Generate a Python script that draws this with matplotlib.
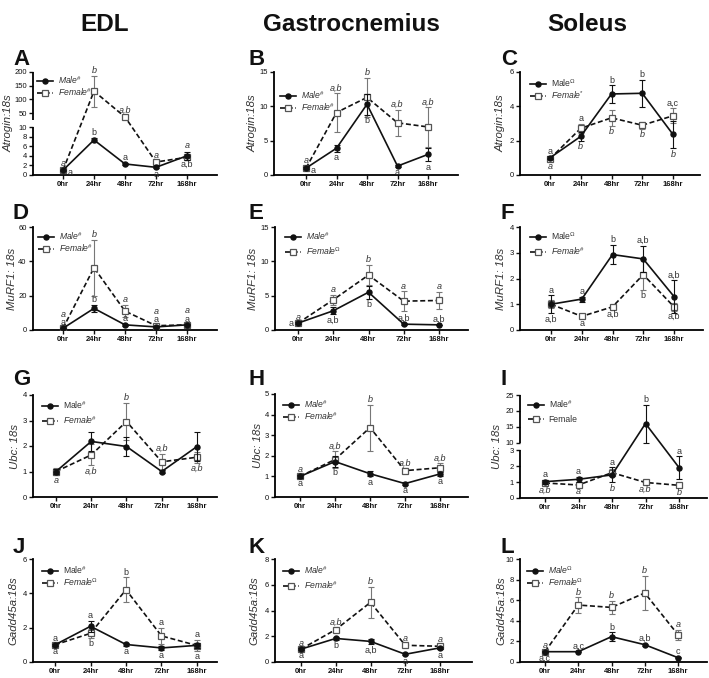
import numpy as np
import matplotlib
matplotlib.use("Agg")
import matplotlib.pyplot as plt
from matplotlib.lines import Line2D

plt.rcParams['font.family'] = ['Liberation Sans', 'DejaVu Sans']
plt.rcParams['mathtext.fontset'] = 'custom'
plt.rcParams['mathtext.rm'] = 'Liberation Sans'
plt.rcParams['mathtext.it'] = 'Liberation Sans:italic'
plt.rcParams['mathtext.bf'] = 'Liberation Sans:bold'

# ---------------- data ----------------
timepoints = ['0hr', '24hr', '48hr', '72hr', '168hr']
muscles = ['EDL', 'Gastrocnemius', 'Soleus']
genes = ['Atrogin:18s', 'MuRF1: 18s', 'Ubc: 18s', 'Gadd45a:18s']

atrogin_edl_m = [1.0, 7.3, 2.3, 1.6, 4.0]
atrogin_edl_m_sem = [0.1, 0.5, 0.3, 0.2, 0.8]
atrogin_edl_f = [1.0, 130, 36, 2.7, 3.7]
atrogin_edl_f_sem = [0.1, 57, 5, 0.3, 0.5]
atrogin_gas_m = [1.0, 3.9, 10.3, 1.3, 3.0]
atrogin_gas_m_sem = [0.1, 0.5, 1.5, 0.1, 1.0]
atrogin_gas_f = [1.0, 9.1, 11.3, 7.6, 7.0]
atrogin_gas_f_sem = [0.1, 2.8, 2.8, 1.9, 2.9]
atrogin_sol_m = [1.0, 2.25, 4.72, 4.76, 2.36]
atrogin_sol_m_sem = [0.08, 0.25, 0.5, 0.78, 0.8]
atrogin_sol_f = [0.95, 2.72, 3.33, 2.9, 3.45]
atrogin_sol_f_sem = [0.12, 0.25, 0.45, 0.2, 0.45]

murf_edl_m = [1.0, 12.6, 3.0, 1.8, 3.0]
murf_edl_m_sem = [0.2, 2.0, 0.5, 0.3, 0.3]
murf_edl_f = [1.0, 36.3, 11.0, 2.5, 3.0]
murf_edl_f_sem = [0.2, 16.3, 3.5, 0.5, 0.3]
murf_gas_m = [1.0, 2.8, 5.5, 0.85, 0.75]
murf_gas_m_sem = [0.1, 0.5, 0.95, 0.1, 0.05]
murf_gas_f = [1.0, 4.4, 8.0, 4.2, 4.3]
murf_gas_f_sem = [0.1, 0.7, 1.45, 1.45, 1.3]
murf_sol_m = [1.0, 1.2, 2.93, 2.76, 1.3]
murf_sol_m_sem = [0.35, 0.1, 0.38, 0.52, 0.63]
murf_sol_f = [1.0, 0.53, 0.9, 2.15, 0.9]
murf_sol_f_sem = [0.15, 0.04, 0.08, 0.6, 0.15]

ubc_edl_m = [1.0, 2.18, 1.98, 1.0, 1.98]
ubc_edl_m_sem = [0.1, 0.37, 0.38, 0.05, 0.57]
ubc_edl_f = [1.0, 1.65, 2.96, 1.38, 1.56]
ubc_edl_f_sem = [0.12, 0.41, 0.74, 0.32, 0.22]
ubc_gas_m = [1.0, 1.72, 1.13, 0.65, 1.12]
ubc_gas_m_sem = [0.06, 0.25, 0.12, 0.06, 0.1]
ubc_gas_f = [1.0, 1.82, 3.37, 1.28, 1.42]
ubc_gas_f_sem = [0.06, 0.4, 1.12, 0.12, 0.22]
ubc_sol_m = [1.03, 1.18, 1.46, 16.0, 1.92]
ubc_sol_m_sem = [0.12, 0.15, 0.48, 6.0, 0.7]
ubc_sol_f = [0.95, 0.82, 1.6, 0.98, 0.8]
ubc_sol_f_sem = [0.1, 0.05, 0.2, 0.05, 0.06]

gadd_edl_m = [1.0, 2.08, 1.02, 0.82, 0.97]
gadd_edl_m_sem = [0.05, 0.32, 0.08, 0.1, 0.15]
gadd_edl_f = [1.0, 1.67, 4.21, 1.52, 0.96]
gadd_edl_f_sem = [0.05, 0.25, 0.72, 0.45, 0.32]
gadd_gas_m = [1.0, 1.83, 1.6, 0.6, 1.1]
gadd_gas_m_sem = [0.05, 0.1, 0.2, 0.08, 0.1]
gadd_gas_f = [1.0, 2.52, 4.63, 1.3, 1.22]
gadd_gas_f_sem = [0.05, 0.15, 1.23, 0.12, 0.1]
gadd_sol_m = [1.0, 1.0, 2.46, 1.68, 0.42]
gadd_sol_m_sem = [0.05, 0.05, 0.42, 0.1, 0.05]
gadd_sol_f = [1.0, 5.53, 5.3, 6.7, 2.65]
gadd_sol_f_sem = [0.05, 0.76, 0.65, 1.65, 0.5]

# legend labels: (male label, male italic, female label, female italic)
legend_labels = {
    'A': ('Male$^{\\#}$', True, 'Female$^{\\#}$', True),
    'B': ('Male$^{\\#}$', True, 'Female$^{\\#}$', True),
    'C': ('Male$^{\\Omega}$', False, 'Female$^{*}$', True),
    'D': ('Male$^{\\#}$', True, 'Female$^{\\#}$', True),
    'E': ('Male$^{\\#}$', True, 'Female$^{\\Omega}$', True),
    'F': ('Male$^{\\Omega}$', False, 'Female$^{\\#}$', True),
    'G': ('Male$^{\\#}$', False, 'Female$^{\\#}$', True),
    'H': ('Male$^{\\#}$', True, 'Female$^{\\#}$', True),
    'I': ('Male$^{\\#}$', False, 'Female', False),
    'J': ('Male$^{\\#}$', False, 'Female$^{\\Omega}$', True),
    'K': ('Male$^{\\#}$', True, 'Female$^{\\#}$', True),
    'L': ('Male$^{\\Omega}$', True, 'Female$^{\\Omega}$', True),
}

# significance letters: (time index, text, italic, anchor, extra offset pt)
letters = {
    'A': [(0, 'a', True, 'top', 1), (0, 'a', False, 'r', 0), (1, 'b', True, 'ft', 0), (1, 'b', False, 'mt', 0),
          (2, 'a,b', True, 'ft', 0), (2, 'a', False, 'mt', 0), (3, 'a', True, 'ft', 0), (3, 'a', False, 'mb', 0),
          (4, 'a', True, 'top', 1), (4, 'a,b', False, 'bot', 1)],
    'B': [(0, 'a', True, 'top', 1), (0, 'a', False, 'r', 0), (1, 'a,b', True, 'ft', 0), (1, 'a', False, 'mb', 0),
          (2, 'b', True, 'ft', 0), (2, 'b', False, 'mb', 0), (3, 'a,b', True, 'ft', 0), (3, 'a', False, 'mb', 0),
          (4, 'a,b', True, 'ft', 0), (4, 'a', False, 'mb', 0)],
    'C': [(0, 'a', False, 'top', 0), (0, 'a', True, 'bot', 0), (1, 'a', False, 'top', 0), (1, 'b', True, 'bot', 0),
          (2, 'b', False, 'mt', 0), (2, 'b', True, 'fb', 0), (3, 'b', False, 'mt', 0), (3, 'b', True, 'fb', 0),
          (4, 'a,c', False, 'top', 0), (4, 'b', True, 'bot', 0)],
    'D': [(0, 'a', True, 'top', 6), (0, 'a', False, 'top', 0), (1, 'b', True, 'ft', 0), (1, 'b', False, 'mt', 0),
          (2, 'a', True, 'ft', 0), (2, 'a', False, 'mt', 0), (3, 'a', True, 'top', 6), (3, 'a', False, 'top', 0),
          (4, 'a', True, 'top', 6), (4, 'a', False, 'top', 0)],
    'E': [(0, 'a', True, 'top', 0), (0, 'a', False, 'l', 0), (1, 'a', True, 'ft', 0), (1, 'a,b', False, 'mb', 0),
          (2, 'b', True, 'ft', 0), (2, 'b', False, 'mb', 0), (3, 'a', True, 'ft', 0), (3, 'a,b', False, 'mt', 0),
          (4, 'a', True, 'ft', 0), (4, 'a,b', False, 'mt', 0)],
    'F': [(0, 'a', False, 'mt', 0), (0, 'a,b', False, 'bot', 0), (1, 'a', False, 'mt', 0), (1, 'a', False, 'fb', 0),
          (2, 'b', False, 'mt', 0), (2, 'a,b', False, 'fb', 0), (3, 'a,b', False, 'mt', 0), (3, 'b', False, 'fb', 0),
          (4, 'a,b', False, 'mt', 0), (4, 'a,b', False, 'fb', 0)],
    'G': [(0, 'a', True, 'bot', 0), (1, 'a,b', True, 'fb', 0), (2, 'b', True, 'ft', 0), (3, 'a,b', True, 'ft', 0),
          (4, 'a,b', True, 'fb', 0)],
    'H': [(0, 'a', True, 'top', 0), (0, 'a', False, 'bot', 0), (1, 'a,b', True, 'ft', 0), (1, 'b', False, 'mb', 0),
          (2, 'b', True, 'ft', 0), (2, 'a', False, 'mb', 0), (3, 'a,b', True, 'ft', 0), (3, 'a', False, 'mb', 0),
          (4, 'a,b', True, 'ft', 0), (4, 'a', False, 'mb', 0)],
    'I': [(0, 'a', False, 'top', 0), (0, 'a,b', True, 'bot', 0), (1, 'a', False, 'mt', 0), (1, 'a', True, 'fb', 0),
          (2, 'a', False, 'top', 0), (2, 'b', True, 'bot', 0), (3, 'b', False, 'mt', 0), (3, 'a,b', True, 'fb', 0),
          (4, 'a', False, 'mt', 0), (4, 'b', True, 'fb', 0)],
    'J': [(0, 'a', False, 'top', 0), (0, 'a', False, 'bot', 0), (1, 'a', False, 'top', 0), (1, 'b', False, 'fb', 0),
          (2, 'b', False, 'ft', 0), (2, 'a', False, 'mb', 0), (3, 'a', False, 'ft', 0), (3, 'a', False, 'mb', 0),
          (4, 'a', False, 'top', 0), (4, 'a', False, 'bot', 0)],
    'K': [(0, 'a', True, 'top', 0), (0, 'a', False, 'bot', 0), (1, 'a,b', True, 'ft', 0), (1, 'b', False, 'mb', 0),
          (2, 'b', True, 'ft', 0), (2, 'a,b', False, 'mb', 0), (3, 'a', True, 'ft', 0), (3, 'a', False, 'mb', 0),
          (4, 'a', True, 'ft', 0), (4, 'a', False, 'mb', 0)],
    'L': [(0, 'a', True, 'top', 0), (0, 'a,c', False, 'bot', 0), (1, 'b', True, 'ft', 0), (1, 'a,c', False, 'mt', 0),
          (2, 'b', True, 'ft', 0), (2, 'b', False, 'mt', 0), (3, 'b', True, 'ft', 0), (3, 'a,b', False, 'mt', 0),
          (4, 'a', True, 'ft', 0), (4, 'c', False, 'mt', 0)],
}

panels = [
    ('A', 0, 0, atrogin_edl_m, atrogin_edl_m_sem, atrogin_edl_f, atrogin_edl_f_sem),
    ('B', 0, 1, atrogin_gas_m, atrogin_gas_m_sem, atrogin_gas_f, atrogin_gas_f_sem),
    ('C', 0, 2, atrogin_sol_m, atrogin_sol_m_sem, atrogin_sol_f, atrogin_sol_f_sem),
    ('D', 1, 0, murf_edl_m, murf_edl_m_sem, murf_edl_f, murf_edl_f_sem),
    ('E', 1, 1, murf_gas_m, murf_gas_m_sem, murf_gas_f, murf_gas_f_sem),
    ('F', 1, 2, murf_sol_m, murf_sol_m_sem, murf_sol_f, murf_sol_f_sem),
    ('G', 2, 0, ubc_edl_m, ubc_edl_m_sem, ubc_edl_f, ubc_edl_f_sem),
    ('H', 2, 1, ubc_gas_m, ubc_gas_m_sem, ubc_gas_f, ubc_gas_f_sem),
    ('I', 2, 2, ubc_sol_m, ubc_sol_m_sem, ubc_sol_f, ubc_sol_f_sem),
    ('J', 3, 0, gadd_edl_m, gadd_edl_m_sem, gadd_edl_f, gadd_edl_f_sem),
    ('K', 3, 1, gadd_gas_m, gadd_gas_m_sem, gadd_gas_f, gadd_gas_f_sem),
    ('L', 3, 2, gadd_sol_m, gadd_sol_m_sem, gadd_sol_f, gadd_sol_f_sem),
]

# y-axis setups: (ymax, tick step) or broken spec
yaxes = {
    'A': ('broken', 10, 2, 25, 200, [50, 100, 150, 200], 0.146),
    'B': (15, 5), 'C': (6, 2), 'D': (60, 20), 'E': (15, 5), 'F': (4, 1),
    'G': (4, 1), 'H': (5, 1),
    'I': ('broken', 3, 1, 10, 25, [10, 15, 20, 25], 0.167),
    'J': (6, 2), 'K': (8, 2), 'L': (10, 2),
}

# ---------------- layout (pixels) ----------------
W, H = 709, 678
# left, right, top, bottom, x(0hr), x(168hr), legend x, legend first-row y, legend row gap, ylabel offset
geom = {
    'A': (33, 217, 72, 175, 63, 187, 37, 79, 11, 24),
    'B': (274, 458, 72, 175, 306, 428, 280, 94, 10.5, 21),
    'C': (520, 700, 72, 175, 550, 673, 530, 82, 11, 19),
    'D': (33, 217, 227, 330, 63, 187, 38, 235, 10.5, 21),
    'E': (275, 468, 227, 330, 298, 439, 285, 235, 14, 22),
    'F': (520, 703, 227, 330, 551, 674, 530, 235, 14, 19),
    'G': (33, 217, 395, 497, 56, 197, 42, 404, 14, 18),
    'H': (275, 468, 394, 497, 300, 440, 283, 403, 11, 17),
    'I': (520, 707, 395, 498, 545, 679, 528, 403, 15, 23),
    'J': (33, 217, 559, 662, 55, 197, 42, 569, 11, 20),
    'K': (275, 472, 559, 662, 301, 440, 283, 569, 14, 21),
    'L': (520, 707, 559, 662, 545, 678, 527, 569, 10.5, 19),
}
letter_pos_x = [13, 248, 501]
letter_base_y = [65, 219, 385, 553]
title_x = [105, 351, 587]
LEG_FS = 6.2
LEG_ROW_PX = 10.0

fig = plt.figure(figsize=(W / 100, H / 100), dpi=100)
fig.patch.set_facecolor('white')

for mi, name in enumerate(muscles):
    fig.text(title_x[mi] / W, 1 - 31 / H, name, ha='center', va='baseline',
             fontsize=17.5, fontweight='bold', color='#111111')


def piecewise(lo_top, hi_bot, hi_top, gap):
    def fwd(y):
        y = np.asarray(y, float)
        return np.where(y <= lo_top, y / lo_top,
                        np.where(y < hi_bot, 1 + gap * (y - lo_top) / (hi_bot - lo_top),
                                 1 + gap + (y - hi_bot) / (hi_top - hi_bot)))

    def inv(u):
        u = np.asarray(u, float)
        return np.where(u <= 1, u * lo_top,
                        np.where(u < 1 + gap, lo_top + (u - 1) / gap * (hi_bot - lo_top),
                                 hi_bot + (u - 1 - gap) * (hi_top - hi_bot)))
    return fwd, inv


TXT = '#333333'
x = np.arange(len(timepoints))

for (pl, row, col, m, em, f, ef) in panels:
    left, right, top, bottom, x0, x4, lx, ly, lgap, yoff = geom[pl]
    ax = fig.add_axes([left / W, 1 - bottom / H, (right - left) / W, (bottom - top) / H])
    s = (x4 - x0) / 4.0
    ax.set_xlim((left - x0) / s, (right - x0) / s)
    m, em, f, ef = map(np.asarray, (m, em, f, ef))

    spec = yaxes[pl]
    if spec[0] == 'broken':
        _, lo_top, lo_step, hi_bot, hi_top, hi_ticks, gap = spec
        fwd, inv = piecewise(lo_top, hi_bot, hi_top, gap)
        ax.set_yscale('function', functions=(fwd, inv))
        ax.set_ylim(0, hi_top)
        ax.set_yticks(list(np.arange(0, lo_top + 0.01, lo_step)) + hi_ticks)
        ax.spines['left'].set_visible(False)
        tr = ax.get_yaxis_transform()
        ax.plot([0, 0], [0, lo_top], transform=tr, color='k', lw=1.3, clip_on=False, solid_capstyle='butt')
        ax.plot([0, 0], [hi_bot, hi_top], transform=tr, color='k', lw=1.3, clip_on=False, solid_capstyle='butt')
    else:
        ymax, step = spec
        ax.set_ylim(0, ymax)
        ax.set_yticks(np.arange(0, ymax + 0.01, step))
    ax.yaxis.set_major_formatter(matplotlib.ticker.FuncFormatter(lambda v, p: f"{v:g}"))

    # female (dashed, open squares)
    ax.errorbar(x, f, yerr=ef, fmt='none', ecolor='#777777', elinewidth=0.8, capsize=2.2,
                capthick=0.8, zorder=2)
    ax.plot(x, f, color='#111111', ls=(0, (3, 1.6)), lw=1.2, marker='s', ms=4.8,
            mfc='white', mec='#555555', mew=0.9, zorder=3)
    # male (solid, filled circles)
    ax.errorbar(x, m, yerr=em, fmt='none', ecolor='#111111', elinewidth=0.8, capsize=2.2,
                capthick=0.8, zorder=4)
    ax.plot(x, m, color='#111111', lw=1.2, marker='o', ms=3.6, zorder=5)

    ax.set_xticks(x)
    ax.set_xticklabels(timepoints)
    for lab in ax.get_xticklabels():
        lab.set_fontweight('bold')
    ax.tick_params(axis='both', length=3, width=1.0, labelsize=5.5, pad=1.5, colors='#111111')
    for sp in ('top', 'right'):
        ax.spines[sp].set_visible(False)
    for sp in ('left', 'bottom'):
        ax.spines[sp].set_linewidth(1.3)
    ax.set_facecolor('none')

    ax.set_ylabel(genes[row], fontsize=8.2, style='italic', color=TXT, va='center')
    ax.yaxis.set_label_coords(-yoff / (right - left), 0.5)

    # legend
    ml, mit, fl, fit = legend_labels[pl]
    mh = Line2D([], [], color='#111111', lw=1.2, marker='o', ms=3.6)
    fh = Line2D([], [], color='#111111', ls=(0, (3, 1.6)), lw=1.2, marker='s', ms=4.8,
                mfc='white', mec='#555555', mew=0.9)
    bx = (lx - left) / (right - left)
    by = 1 - ((ly - 5) - top) / (bottom - top)
    fs_px = LEG_FS * 100 / 72
    lspace = (lgap - LEG_ROW_PX) / fs_px
    leg = ax.legend([mh, fh], [ml, fl], loc='upper left', bbox_to_anchor=(bx, by),
                    frameon=False, fontsize=LEG_FS, handlelength=1.9, handletextpad=0.5,
                    labelspacing=lspace, borderpad=0, borderaxespad=0)
    t = leg.get_texts()
    t[0].set_style('italic' if mit else 'normal')
    t[1].set_style('italic' if fit else 'normal')
    for tt in t:
        tt.set_color(TXT)

    # significance letters
    for (xi, txt, it, anc, extra) in letters[pl]:
        ha, dx = 'center', 0
        if anc == 'mt':
            y, va, dy = m[xi] + em[xi], 'bottom', 0.5
        elif anc == 'mb':
            y, va, dy = m[xi] - em[xi], 'top', -1
        elif anc == 'ft':
            y, va, dy = f[xi] + ef[xi], 'bottom', 0.5
        elif anc == 'fb':
            y, va, dy = f[xi] - ef[xi], 'top', -1
        elif anc == 'top':
            y, va, dy = max(m[xi] + em[xi], f[xi] + ef[xi]), 'bottom', 0.5
        elif anc == 'bot':
            y, va, dy = min(m[xi] - em[xi], f[xi] - ef[xi]), 'top', -1
        elif anc == 'r':
            y, va, dy, ha, dx = m[xi], 'center', -1.5, 'left', 3
        else:
            y, va, dy, ha, dx = m[xi], 'center', 0, 'right', -3
        ax.annotate(txt, (xi, y), xytext=(dx, dy + extra), textcoords='offset points',
                    ha=ha, va=va, fontsize=6.5, style='italic' if it else 'normal',
                    color=TXT, annotation_clip=False)

    fig.text(letter_pos_x[col] / W, 1 - letter_base_y[row] / H, pl, fontsize=16,
             fontweight='bold', va='baseline', ha='left', color='#111111')

fig.savefig('out.png', dpi=100, facecolor='white')
